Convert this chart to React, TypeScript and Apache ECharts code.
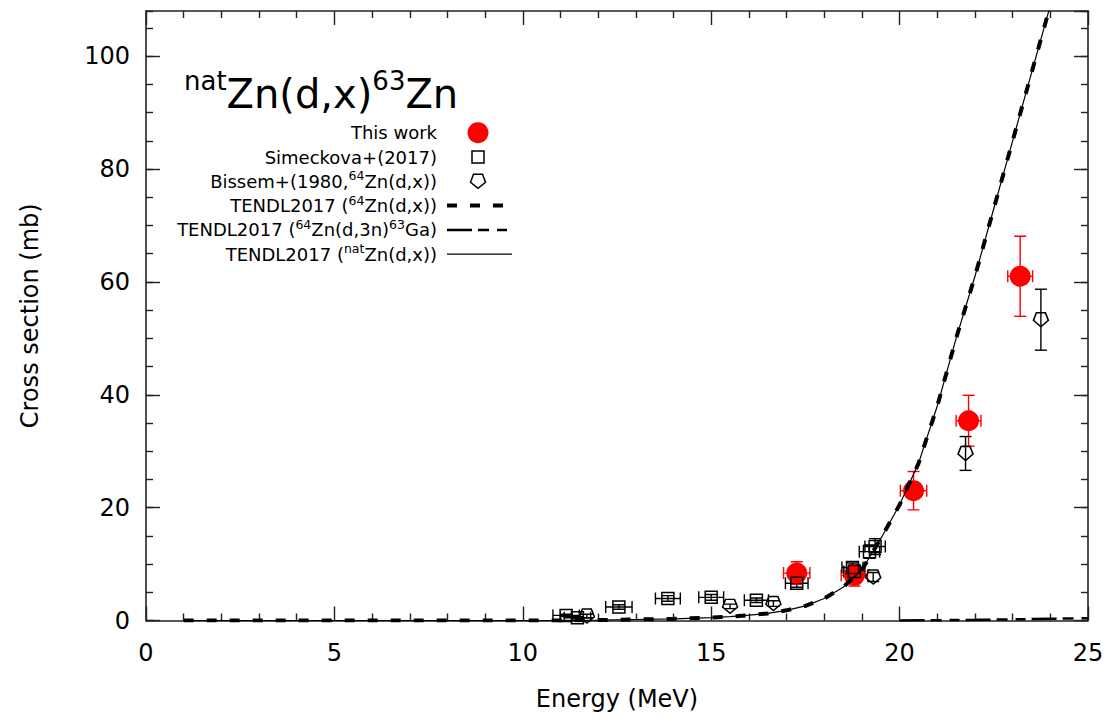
import React, { useEffect, useRef } from "react";
import * as echarts from "echarts";

// ---------- data ----------
const thisWorkE = [17.27, 18.8, 20.37, 21.83, 23.2];
const thisWorkXS = [8.4, 8.0, 23.0, 35.4, 61.0];
const thisWorkXSErr = [2.0, 1.9, 3.4, 4.5, 7.1];
const thisWorkEErr = [0.35, 0.35, 0.35, 0.33, 0.33];

const simeckovaE = [11.15, 11.45, 12.55, 13.85, 15.0, 16.2, 17.27, 18.75, 18.8, 19.2, 19.35];
const simeckovaXS = [0.9, 0.5, 2.4, 3.9, 4.1, 3.6, 6.6, 9.4, 8.7, 12.2, 13.1];
const simeckovaXSErr = [0.2, 0.2, 0.4, 0.5, 0.5, 0.4, 0.7, 0.8, 0.8, 1.2, 1.4];
const simeckovaEErr = [0.35, 0.35, 0.35, 0.33, 0.33, 0.32, 0.3, 0.28, 0.28, 0.27, 0.27];

const bissemE = [11.7, 15.5, 16.65, 19.3, 21.75, 23.75];
const bissemXS = [0.8, 2.5, 3.0, 7.7, 29.6, 53.3];
const bissemXSErr = [0.3, 0.4, 0.5, 0.8, 3.0, 5.4];

const tendlE = [1, 2, 3, 4, 5, 6, 7, 8, 9, 10, 11, 12, 13, 14, 15, 15.5, 16, 16.5, 17, 17.5, 18, 18.5, 19, 19.5, 20, 20.5, 21, 21.5, 22, 22.5, 23, 23.5, 24, 24.5, 25];
const tendl64XS = [0, 0, 0, 0, 0, 0, 0, 0, 0, 0, 0.02, 0.08, 0.18, 0.3, 0.5, 0.7, 0.95, 1.25, 1.8, 2.6, 3.9, 5.9, 9.0, 14.5, 20.5, 27.8, 38, 50, 61, 73, 85, 97, 109, 121, 133];
const tendlNatXS = [0, 0, 0, 0, 0, 0, 0, 0, 0, 0, 0.02, 0.08, 0.18, 0.3, 0.5, 0.7, 0.95, 1.25, 1.8, 2.6, 3.9, 5.9, 9.0, 14.5, 20.5, 27.8, 38, 50, 61, 73, 85, 97, 109, 121, 133];
const ga63E = [20, 21, 22, 23, 24, 25];
const ga63XS = [0, 0.05, 0.12, 0.2, 0.3, 0.4];

const xTicks = [0, 5, 10, 15, 20, 25];
const yTicks = [0, 20, 40, 60, 80, 100];

const legendLabels = [
  "{m|This work}",
  "{m|Simeckova+(2017)}",
  "{m|Bissem+(1980,}{s|64}{m|Zn(d,x))}",
  "{m|TENDL2017 (}{s|64}{m|Zn(d,x))}",
  "{m|TENDL2017 (}{s|64}{m|Zn(d,3n)}{s|63}{m|Ga)}",
  "{m|TENDL2017 (}{s|nat}{m|Zn(d,x))}",
];

const FONT = "'DejaVu Sans', Verdana, sans-serif";
const PENTA = "path://M2,0 L8,0 L10,5.5 L5,10 L0,5.5 Z";
const GA_DASH = [25, 6, 11, 8, 10, 6];

function zip(...arrs: number[][]) {
  return arrs[0].map((_, i) => arrs.map((a) => a[i]));
}

function errorSeries(color: string, data: number[][]) {
  return {
    type: "custom",
    xAxisIndex: 0,
    yAxisIndex: 0,
    silent: true,
    clip: true,
    encode: { x: 0, y: 1 },
    data,
    renderItem: (params: any, api: any) => {
      const x = api.value(0);
      const y = api.value(1);
      const ex = api.value(2);
      const ey = api.value(3);
      const c = api.coord([x, y]);
      const style = { stroke: color, lineWidth: 1.4, fill: null };
      const cap = 6;
      const children: any[] = [];
      if (ey > 0) {
        const t = api.coord([x, y + ey]);
        const b = api.coord([x, Math.max(0, y - ey)]);
        children.push({ type: "line", shape: { x1: c[0], y1: t[1], x2: c[0], y2: b[1] }, style });
        children.push({ type: "line", shape: { x1: c[0] - cap, y1: t[1], x2: c[0] + cap, y2: t[1] }, style });
        children.push({ type: "line", shape: { x1: c[0] - cap, y1: b[1], x2: c[0] + cap, y2: b[1] }, style });
      }
      if (ex > 0) {
        const l = api.coord([x - ex, y]);
        const r = api.coord([x + ex, y]);
        children.push({ type: "line", shape: { x1: l[0], y1: c[1], x2: r[0], y2: c[1] }, style });
        children.push({ type: "line", shape: { x1: l[0], y1: c[1] - cap, x2: l[0], y2: c[1] + cap }, style });
        children.push({ type: "line", shape: { x1: r[0], y1: c[1] - cap, x2: r[0], y2: c[1] + cap }, style });
      }
      return { type: "group", children };
    },
  };
}

const AXIS_COLOR = "#222";

function buildOption() {
  const legendX = 437;
  const legendY0 = 132.7;
  const legendDY = 24.3;
  const symX = 478;
  const graphics: any[] = [];
  graphics.push({
    type: "text",
    x: 184,
    y: 94,
    style: {
      text: "{s|nat}{m|Zn(d,x)}{s|63}{m|Zn}",
      align: "left",
      verticalAlign: "middle",
      rich: {
        m: { fontSize: 40, fontFamily: FONT, fill: "#000", lineHeight: 52 },
        s: { fontSize: 26, fontFamily: FONT, fill: "#000", lineHeight: 18, verticalAlign: "top" },
      },
    },
  });
  legendLabels.forEach((lab, i) => {
    const y = legendY0 + legendDY * i;
    graphics.push({
      type: "text",
      x: legendX,
      y,
      style: {
        text: lab,
        align: "right",
        verticalAlign: "middle",
        rich: {
          m: { fontSize: 18, fontFamily: FONT, fill: "#000", lineHeight: 24 },
          s: { fontSize: 12.5, fontFamily: FONT, fill: "#000", lineHeight: 12, verticalAlign: "top" },
        },
      },
    });
    if (i === 0) {
      graphics.push({ type: "circle", shape: { cx: symX, cy: y, r: 10.5 }, style: { fill: "#ff0000" } });
    } else if (i === 1) {
      graphics.push({ type: "rect", shape: { x: symX - 6, y: y - 6, width: 12, height: 12 }, style: { fill: "none", stroke: "#000", lineWidth: 1.5 } });
    } else if (i === 2) {
      graphics.push({
        type: "polygon",
        shape: { points: [[symX - 4.5, y - 7], [symX + 4.5, y - 7], [symX + 7.5, y + 1], [symX, y + 7], [symX - 7.5, y + 1]] },
        style: { fill: "none", stroke: "#000", lineWidth: 1.5 },
      });
    } else if (i === 3) {
      graphics.push({ type: "line", shape: { x1: 447, y1: y, x2: 512, y2: y }, style: { stroke: "#000", lineWidth: 4, lineDash: [10, 13] } });
    } else if (i === 4) {
      graphics.push({ type: "line", shape: { x1: 447, y1: y, x2: 512, y2: y }, style: { stroke: "#000", lineWidth: 2.5, lineDash: GA_DASH } });
    } else {
      graphics.push({ type: "line", shape: { x1: 447, y1: y, x2: 512, y2: y }, style: { stroke: "#000", lineWidth: 1.2 } });
    }
  });

  const baseY = {
    type: "value",
    min: 0,
    max: 108,
    splitLine: { show: false },
    axisLine: { show: true, onZero: false, lineStyle: { color: AXIS_COLOR, width: 1.6 } },
  };
  const baseX = {
    type: "value",
    min: 0,
    max: 25,
    interval: 5,
    splitLine: { show: false },
    axisLine: { show: true, onZero: false, lineStyle: { color: AXIS_COLOR, width: 1.6 } },
    axisTick: { show: true, inside: true, length: 14, lineStyle: { color: AXIS_COLOR, width: 1.4 } },
    minorTick: { show: true, splitNumber: 5, length: 7, lineStyle: { color: AXIS_COLOR, width: 1.4 } },
    minorSplitLine: { show: false },
  };

  return {
    animation: false,
    backgroundColor: "#ffffff",
    grid: { left: 146, right: 28, top: 11, bottom: 103.5, outerBoundsMode: "none", containLabel: false },
    xAxis: [
      {
        ...baseX,
        position: "bottom",
        axisLabel: {
          fontSize: 24,
          fontFamily: FONT,
          color: "#000",
          margin: 20,
          formatter: (v: number) => (xTicks.includes(v) ? String(v) : ""),
        },
        name: "Energy (MeV)",
        nameLocation: "middle",
        nameGap: 66,
        nameTextStyle: { fontSize: 24, fontFamily: FONT, color: "#000" },
      },
      {
        ...baseX,
        position: "top",
        axisLabel: { show: false },
      },
    ],
    yAxis: [
      {
        ...baseY,
        position: "left",
        interval: 20,
        axisTick: { show: true, inside: true, length: 14, lineStyle: { color: AXIS_COLOR, width: 1.4 } },
        axisLabel: {
          fontSize: 24,
          fontFamily: FONT,
          color: "#000",
          margin: 16,
          showMaxLabel: false,
          formatter: (v: number) => (yTicks.includes(v) ? String(v) : ""),
        },
        name: "Cross section (mb)",
        nameLocation: "middle",
        nameRotate: 90,
        nameGap: 104,
        nameTextStyle: { fontSize: 24, fontFamily: FONT, color: "#000" },
      },
      {
        ...baseY,
        position: "left",
        interval: 5,
        axisLine: { show: false, onZero: false },
        axisTick: { show: true, inside: true, length: 7, lineStyle: { color: AXIS_COLOR, width: 1.4 } },
        axisLabel: { show: false },
      },
      {
        ...baseY,
        position: "right",
        interval: 20,
        axisTick: { show: true, inside: true, length: 14, lineStyle: { color: AXIS_COLOR, width: 1.4 } },
        axisLabel: { show: false },
      },
      {
        ...baseY,
        position: "right",
        interval: 5,
        axisLine: { show: false, onZero: false },
        axisTick: { show: true, inside: true, length: 7, lineStyle: { color: AXIS_COLOR, width: 1.4 } },
        axisLabel: { show: false },
      },
    ],
    graphic: graphics,
    series: [
      errorSeries("#ff0000", zip(thisWorkE, thisWorkXS, thisWorkEErr, thisWorkXSErr)),
      {
        type: "scatter",
        name: "This work",
        xAxisIndex: 0,
        yAxisIndex: 0,
        symbol: "circle",
        symbolSize: 21,
        itemStyle: { color: "#ff0000", opacity: 1 },
        data: zip(thisWorkE, thisWorkXS),
      },
      errorSeries("#000", zip(simeckovaE, simeckovaXS, simeckovaEErr, simeckovaXSErr)),
      {
        type: "scatter",
        name: "Simeckova+(2017)",
        xAxisIndex: 0,
        yAxisIndex: 0,
        symbol: "rect",
        symbolSize: 12,
        itemStyle: { color: "rgba(0,0,0,0)", borderColor: "#000", borderWidth: 1.5, opacity: 1 },
        data: zip(simeckovaE, simeckovaXS),
      },
      errorSeries("#000", zip(bissemE, bissemXS, bissemE.map(() => 0), bissemXSErr)),
      {
        type: "scatter",
        name: "Bissem",
        xAxisIndex: 0,
        yAxisIndex: 0,
        symbol: PENTA,
        symbolSize: [15, 14],
        itemStyle: { color: "rgba(0,0,0,0)", borderColor: "#000", borderWidth: 1.5, opacity: 1 },
        data: zip(bissemE, bissemXS),
      },
      {
        type: "line",
        name: "TENDL2017 natZn",
        xAxisIndex: 0,
        yAxisIndex: 0,
        symbol: "none",
        clip: true,
        lineStyle: { color: "#000", width: 1.2 },
        data: zip(tendlE, tendlNatXS),
      },
      {
        type: "line",
        name: "TENDL2017 64Zn",
        xAxisIndex: 0,
        yAxisIndex: 0,
        symbol: "none",
        clip: true,
        lineStyle: { color: "#000", width: 4, type: [10, 13] },
        data: zip(tendlE, tendl64XS),
      },
      {
        type: "line",
        name: "TENDL2017 63Ga",
        xAxisIndex: 0,
        yAxisIndex: 0,
        symbol: "none",
        clip: true,
        lineStyle: { color: "#000", width: 2.5, type: GA_DASH },
        data: zip(ga63E, ga63XS),
      },
    ],
  };
}

export default function App() {
  const ref = useRef<HTMLDivElement>(null);
  useEffect(() => {
    if (!ref.current) return;
    const chart = echarts.init(ref.current, null, { renderer: "svg" });
    chart.setOption(buildOption() as any);
    return () => chart.dispose();
  }, []);
  return (
    <div
      ref={ref}
      style={{ position: "fixed", left: 0, top: 0, width: 1116, height: 724, background: "#fff" }}
    />
  );
}
